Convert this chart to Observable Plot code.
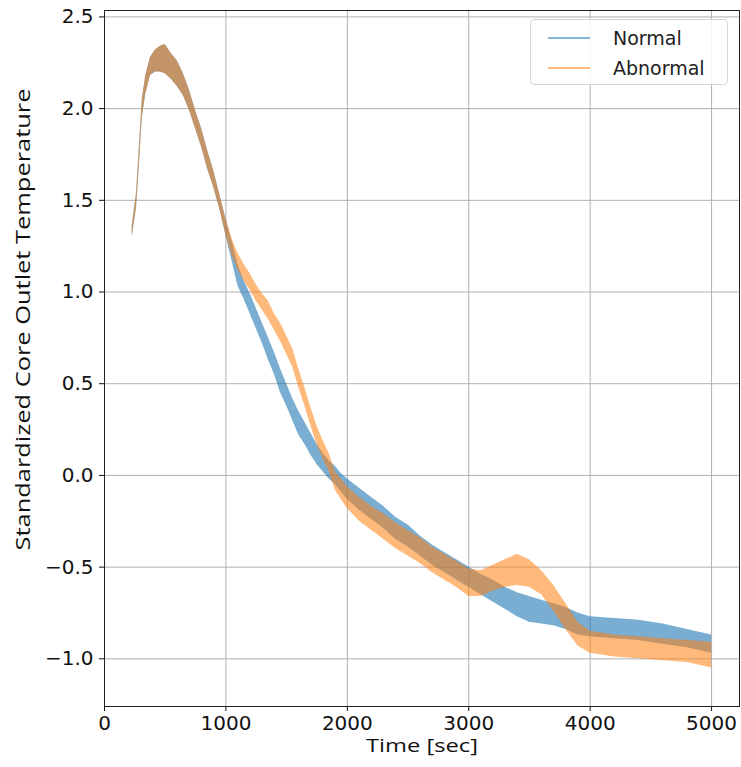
<!DOCTYPE html>
<html>
<head>
<meta charset="utf-8">
<script src="https://cdn.jsdelivr.net/npm/d3@7"></script>
<script src="https://cdn.jsdelivr.net/npm/@observablehq/plot@0.6"></script>
<style>
  body { margin: 0; background: #fff; }
  #wrap { position: relative; width: 741px; height: 767px; font-family: "DejaVu Sans", sans-serif; }
  #legend { position: absolute; left: 530px; top: 19px; width: 198px; height: 66px; background: rgba(255,255,255,0.85);
            border: 1px solid #d6d6d6; border-radius: 4px; box-sizing: border-box; }
  .item { position: absolute; left: 0; height: 26px; display: flex; align-items: center; font-size: 19px; color: #222; }
  .swatch { width: 42px; height: 0; border-top: 2px solid; margin-left: 17px; margin-right: 23px; }
</style>
</head>
<body>
<div id="wrap"><div id="chart"></div>
<div id="legend">
  <div class="item" style="top:5px"><div class="swatch" style="border-color:rgba(31,119,180,0.55)"></div>Normal</div>
  <div class="item" style="top:35px"><div class="swatch" style="border-color:rgba(255,127,14,0.55)"></div>Abnormal</div>
</div>
</div>
<script>
// Time [sec] samples and band (low/high envelope of the noisy signal)
const normalTime = [228,264,290,311,340,379,420,460,500,550,600,650,700,750,800,850,900,950,1000,1050,1100,1150,1200,1250,1300,1350,1400,1450,1500,1550,1600,1650,1700,1750,1800,1850,1900,1950,2000,2100,2200,2300,2400,2500,2600,2700,2800,2900,3000,3100,3200,3300,3400,3500,3600,3700,3800,3900,4000,4200,4400,4600,4800,5000];
const normalLow  = [1.30,1.46,1.72,1.95,2.08,2.18,2.20,2.20,2.19,2.16,2.12,2.07,1.99,1.89,1.79,1.67,1.57,1.45,1.31,1.17,1.03,0.96,0.88,0.80,0.72,0.63,0.55,0.45,0.38,0.30,0.22,0.17,0.11,0.06,0.02,-0.02,-0.05,-0.09,-0.13,-0.19,-0.24,-0.29,-0.35,-0.39,-0.44,-0.49,-0.53,-0.57,-0.61,-0.65,-0.69,-0.73,-0.77,-0.80,-0.81,-0.82,-0.84,-0.87,-0.88,-0.89,-0.90,-0.92,-0.94,-0.97];
const normalHigh = [1.36,1.54,1.82,2.05,2.18,2.28,2.32,2.34,2.35,2.30,2.26,2.19,2.10,1.99,1.89,1.77,1.66,1.53,1.40,1.28,1.15,1.06,0.99,0.91,0.83,0.75,0.67,0.58,0.50,0.42,0.35,0.29,0.23,0.17,0.12,0.08,0.05,0.01,-0.02,-0.07,-0.12,-0.17,-0.23,-0.27,-0.33,-0.38,-0.42,-0.46,-0.50,-0.54,-0.57,-0.61,-0.64,-0.66,-0.68,-0.70,-0.72,-0.75,-0.77,-0.78,-0.79,-0.81,-0.84,-0.87];

const abnormalTime = [228,264,290,311,340,379,420,460,500,550,600,650,700,750,800,850,900,950,1000,1050,1100,1150,1200,1250,1300,1350,1400,1450,1500,1550,1600,1650,1700,1750,1800,1850,1900,1950,2000,2100,2200,2300,2400,2500,2600,2700,2800,2900,3000,3100,3200,3300,3400,3500,3600,3700,3800,3900,4000,4200,4400,4600,4800,5000];
const abnormalLow  = [1.30,1.46,1.72,1.95,2.08,2.18,2.20,2.20,2.19,2.16,2.12,2.07,1.99,1.89,1.79,1.67,1.57,1.45,1.31,1.20,1.12,1.06,1.01,0.95,0.90,0.85,0.79,0.73,0.66,0.59,0.48,0.38,0.27,0.17,0.09,0.02,-0.08,-0.13,-0.18,-0.25,-0.30,-0.35,-0.40,-0.44,-0.48,-0.53,-0.57,-0.61,-0.66,-0.66,-0.63,-0.61,-0.60,-0.61,-0.65,-0.74,-0.84,-0.93,-0.97,-0.99,-1.00,-1.01,-1.02,-1.05];
const abnormalHigh = [1.36,1.54,1.82,2.05,2.18,2.28,2.32,2.34,2.35,2.30,2.26,2.19,2.10,1.99,1.89,1.77,1.66,1.53,1.40,1.29,1.21,1.15,1.10,1.04,0.99,0.95,0.88,0.83,0.76,0.69,0.58,0.48,0.37,0.27,0.19,0.12,0.02,-0.02,-0.06,-0.12,-0.17,-0.21,-0.26,-0.30,-0.34,-0.39,-0.43,-0.47,-0.51,-0.52,-0.49,-0.46,-0.43,-0.46,-0.52,-0.60,-0.70,-0.80,-0.85,-0.87,-0.88,-0.89,-0.90,-0.91];

const xTicks = [0,1000,2000,3000,4000,5000];
const yTicks = [-1.0,-0.5,0.0,0.5,1.0,1.5,2.0,2.5];
const xLabel = "Time [sec]";
const yLabel = "Standardized Core Outlet Temperature";

const normal = normalTime.map((t,i) => ({t, lo: normalLow[i], hi: normalHigh[i]}));
const abnormal = abnormalTime.map((t,i) => ({t, lo: abnormalLow[i], hi: abnormalHigh[i]}));

const fmt = d => (d < 0 ? "\u2212" : "") + Math.abs(d).toFixed(1);

const chart = Plot.plot({
  width: 741,
  height: 767,
  marginLeft: 104,
  marginRight: 2,
  marginTop: 10,
  marginBottom: 61,
  style: {fontFamily: "DejaVu Sans, sans-serif", fontSize: "20px", color: "#111", background: "#fff"},
  x: {domain: [0, 5230]},
  y: {domain: [-1.26, 2.535]},
  marks: [
    Plot.gridX(xTicks, {stroke: "#b0b0b0", strokeOpacity: 1, strokeWidth: 1}),
    Plot.gridY(yTicks, {stroke: "#b0b0b0", strokeOpacity: 1, strokeWidth: 1}),
    Plot.areaY(normal, {x: "t", y1: "lo", y2: "hi", fill: "#1f77b4", fillOpacity: 0.6, curve: "linear"}),
    Plot.areaY(abnormal, {x: "t", y1: "lo", y2: "hi", fill: "#ff7f0e", fillOpacity: 0.55, curve: "linear"}),
    Plot.axisX(xTicks, {tickSize: 5, tickPadding: 4, tickFormat: d => String(d), label: null, fontSize: 20}),
    Plot.axisY(yTicks, {tickSize: 5, tickPadding: 6, tickFormat: fmt, label: null, fontSize: 20}),
    Plot.frame({stroke: "#222", strokeWidth: 1}),
    Plot.text([xLabel], {frameAnchor: "bottom", dy: 45, fontSize: 19, fontFamily: "Open Sans", fill: "#111"}),
    Plot.text([yLabel], {frameAnchor: "left", textAnchor: "middle", dx: -81, dy: -39, rotate: -90, fontSize: 20, fontFamily: "Open Sans", fill: "#111"})
  ]
});
document.getElementById("chart").appendChild(chart);
// stretch axis-label text to the reference's extents (still real text)
chart.querySelectorAll("text").forEach(t => {
  if (t.textContent === yLabel) { t.setAttribute("textLength", 462); t.setAttribute("lengthAdjust", "spacingAndGlyphs"); }
  if (t.textContent === xLabel) { t.setAttribute("textLength", 112); t.setAttribute("lengthAdjust", "spacingAndGlyphs"); }
});
</script>
</body>
</html>
